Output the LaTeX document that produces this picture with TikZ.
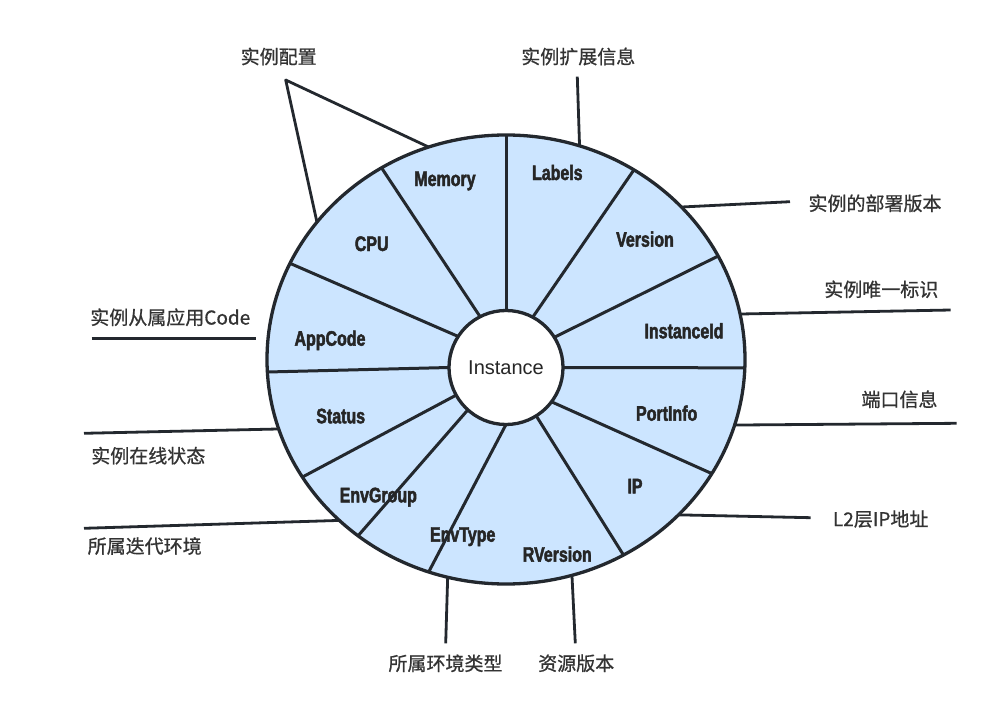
\documentclass[tikz,border=0pt]{standalone}
\usepackage{fontspec}
\setmainfont{Liberation Sans}
\newfontfamily\cjk[FakeBold=0.8]{Noto Sans CJK SC}
\newfontfamily\segfont[FakeStretch=0.76,FakeBold=2.2]{Liberation Sans Bold}
\usetikzlibrary{shapes.geometric}
\definecolor{ringfill}{HTML}{CCE5FF}
\definecolor{ringline}{HTML}{23282E}
\definecolor{notetext}{HTML}{333333}

\begin{document}
\begin{tikzpicture}[x=1pt,y=-1pt,
  seg/.style={font={\segfont\fontsize{21}{21}\selectfont},text=black!85,anchor=base,inner sep=0pt},
  note/.style={font={\cjk\fontsize{19}{19}\selectfont},text=notetext,inner sep=0pt},
  lead/.style={draw=ringline,line width=2.8pt}]
\useasboundingbox (0,0) rectangle (997,717);
\node[ellipse,draw=ringline,fill=ringfill,line width=3.3pt,minimum width=478pt,minimum height=449pt,inner sep=0pt,outer sep=0pt] (ring) at (506,359.5) {};
\node[circle,draw=ringline,fill=white,line width=3.3pt,minimum size=114pt,inner sep=0pt,outer sep=0pt,font=\fontsize{20}{20}\selectfont,text=black!85] (core) at (506,367.5) {Instance};
\foreach \a/\b in {90/90,62/56.8,32/26.5,0/358,323/331.8,302/301.4,270/250.1,228/230.4,209/210.9,180/183.2,147.4/156.4,117/123.8}
  \draw[ringline,line width=3pt] (core.\a) -- (ring.\b);
\node[seg] (memory) at (445,186) {Memory};
\node[seg] (labels) at (557.3,180) {Labels};
\node[seg] (version) at (645,246.7) {Version};
\node[seg] (instid) at (684,338.3) {InstanceId};
\node[seg] (portinfo) at (666.7,420.7) {PortInfo};
\node[seg] (ip) at (635,493.3) {IP};
\node[seg] (rversion) at (557.3,561.7) {RVersion};
\node[seg] (envtype) at (462.7,541.7) {EnvType};
\node[seg] (envgroup) at (378.3,502.3) {EnvGroup};
\node[seg] (status) at (340.7,423.3) {Status};
\node[seg] (appcode) at (330,345.7) {AppCode};
\node[seg] (cpu) at (371.7,251) {CPU};
\node[note] (cfg) at (278.7,56.5) {实例配置};
\coordinate (cfgtip) at (285.7,80);
\draw[lead,line join=round] (ring.144.8) -- (cfgtip) -- (ring.110.3);
\node[note] (ext) at (578.3,56.5) {实例扩展信息};
\coordinate (exttip) at (577.3,76.7);
\draw[lead] (ring.71.7) -- (exttip);
\node[note] (deploy) at (875,203.3) {实例的部署版本};
\coordinate (deploytip) at (790,201.7);
\draw[lead] (ring.41.2) -- (deploytip);
\node[note] (uniq) at (881.3,289.3) {实例唯一标识};
\coordinate (uniqtip) at (950.7,310);
\draw[lead] (ring.11.8) -- (uniqtip);
\node[note] (port) at (899.5,399.3) {端口信息};
\coordinate (porttip) at (956.7,423.3);
\draw[lead] (ring.344.6) -- (porttip);
\node[note] (l2ip) at (880.7,519) {L2层IP地址};
\coordinate (l2iptip) at (810.7,517.7);
\draw[lead] (ring.318.9) -- (l2iptip);
\node[note] (res) at (576.2,663.3) {资源版本};
\coordinate (restip) at (575.3,643.3);
\draw[lead] (ring.287.6) -- (restip);
\node[note] (envkind) at (445.5,663.3) {所属环境类型};
\coordinate (envkindtip) at (445.7,643.3);
\draw[lead] (ring.255.1) -- (envkindtip);
\node[note] (iter) at (144.7,546) {所属迭代环境};
\coordinate (itertip) at (84,528.3);
\draw[lead] (ring.224.4) -- (itertip);
\node[note] (online) at (148.3,455.7) {实例在线状态};
\coordinate (onlinetip) at (84,433.3);
\draw[lead] (ring.197.8) -- (onlinetip);
\node[note] (app) at (170.3,317.3) {实例从属应用Code};
\coordinate (appleft) at (91.7,338.3);
\coordinate (appright) at (256,338.3);
\draw[lead] (appleft) -- (appright);
\end{tikzpicture}
\end{document}
